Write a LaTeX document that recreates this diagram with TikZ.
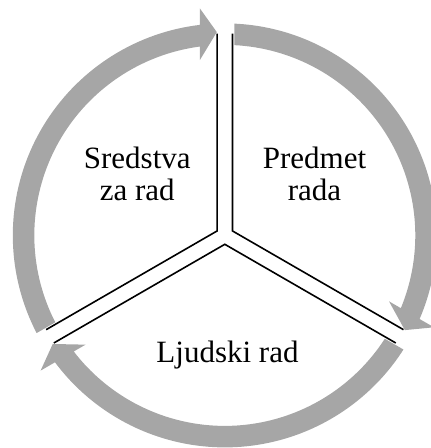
\documentclass[tikz,border=0pt]{standalone}
\usepackage{fontspec}
\setmainfont{Liberation Serif}
\definecolor{ringgray}{RGB}{166,166,166}
\begin{document}
\begin{tikzpicture}[x=1pt,y=1pt,
  ringarrow/.style={fill=ringgray, draw=none},
  divider/.style={draw=black, line width=1.6pt},
  txt/.style={font=\fontsize{31}{32}\selectfont, align=center, inner sep=0pt}]
\useasboundingbox (-224.8,-212.6) rectangle (206.2,235.4);
\clip (-224.8,-212.6) rectangle (206.2,235.4);
\foreach \r in {0,-120,-240}{
  \begin{scope}[rotate=\r]
    \fill[ringarrow] (207.43:212) arc[start angle=207.43, end angle=96.77, radius=212]
      -- (-25,227.1) -- (-8,203.3) -- (-25,175.2) -- (97.54:190.5)
      arc[start angle=97.54, end angle=207.14, radius=190.5] -- cycle;
  \end{scope}
}
\foreach \r in {0,-120,-240}{
  \begin{scope}[rotate=\r]
    \draw[divider] (7.7,201.85) -- (7.7,4.45) -- (178.66,-94.26);
  \end{scope}
}
\node[txt] (sredstva) at (-87.5,61.9) {Sredstva\\za rad};
\node[txt] (predmet) at (89.7,61.9) {Predmet\\rada};
\node[txt, anchor=base] (ljudski) at (2.7,-127.3) {Ljudski rad};
\end{tikzpicture}
\end{document}
